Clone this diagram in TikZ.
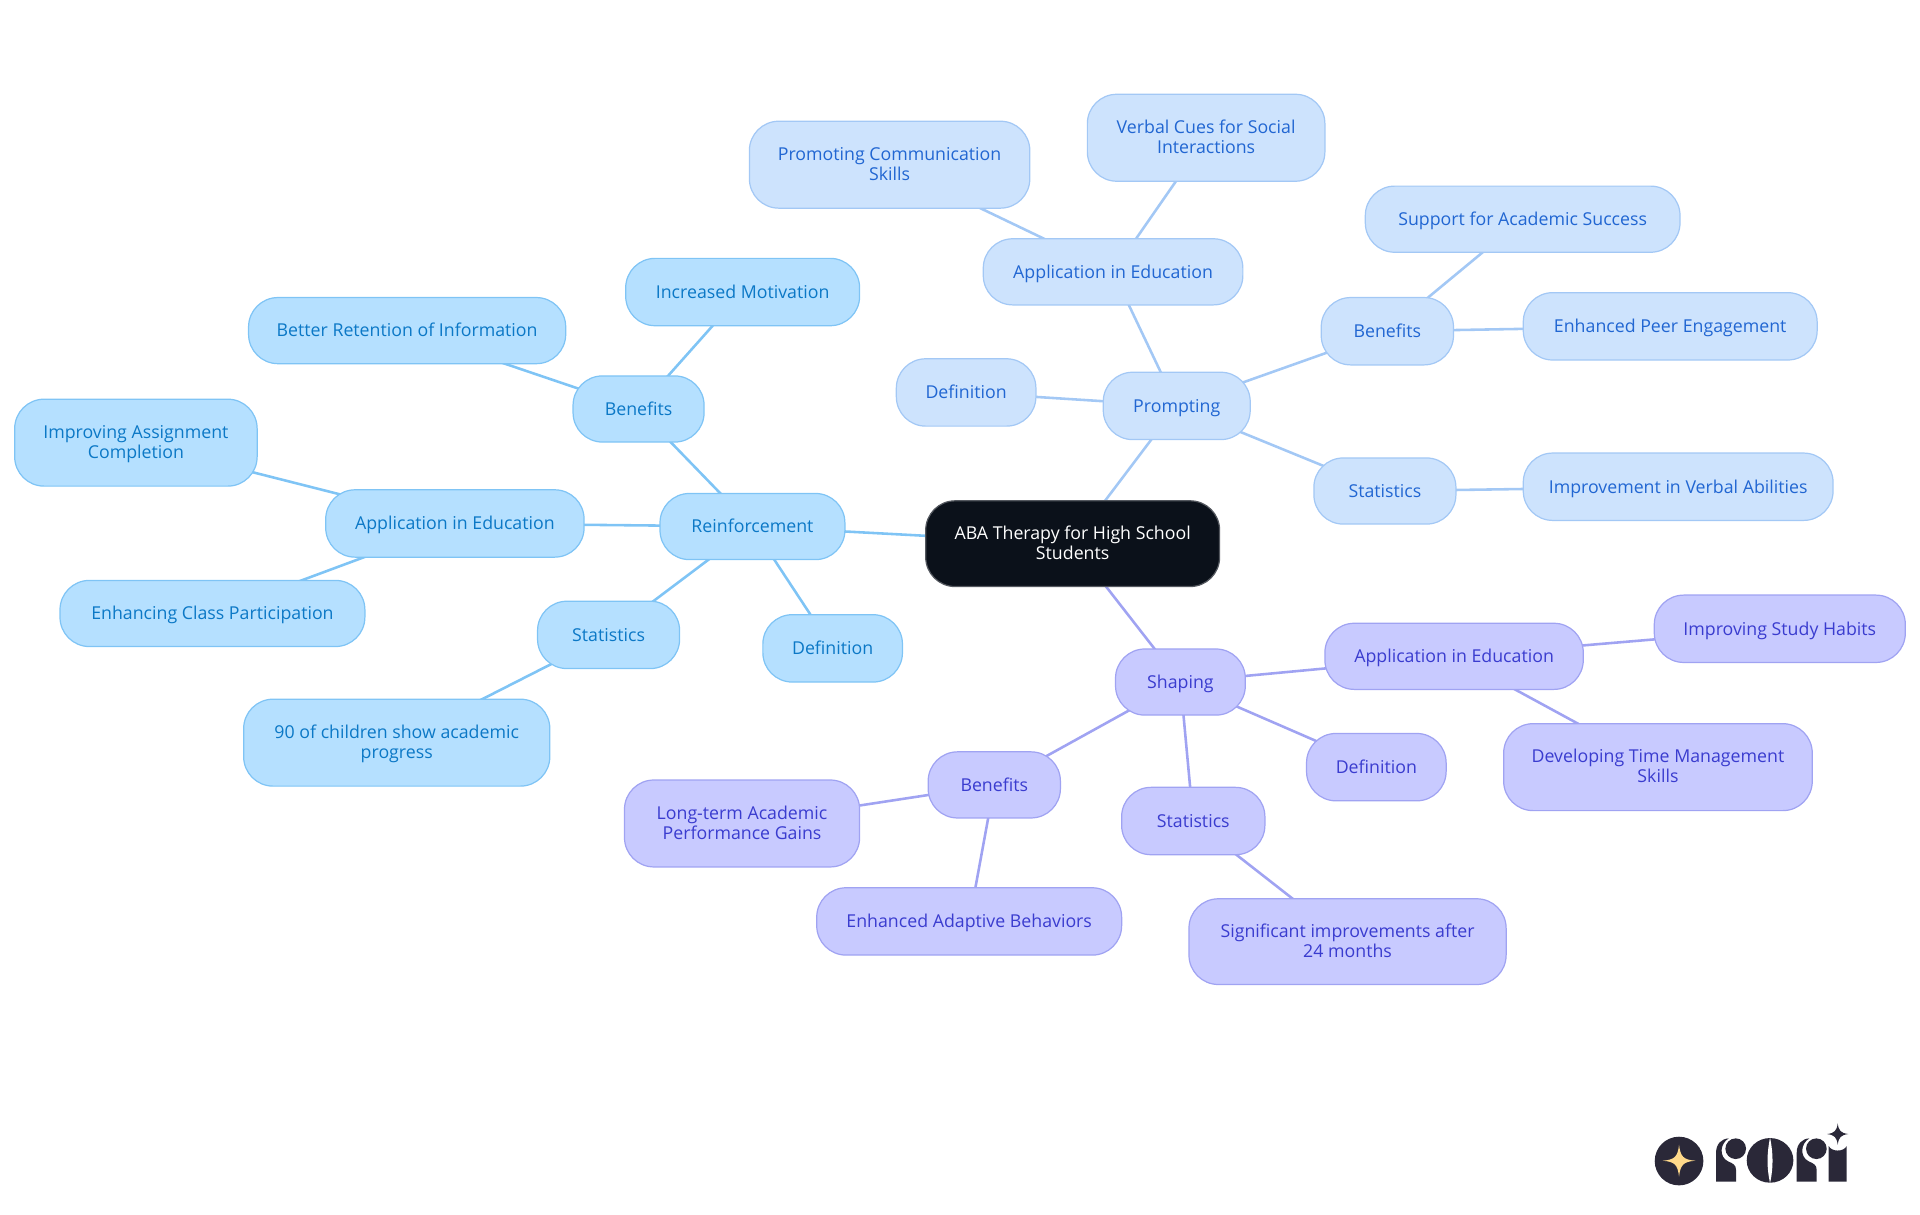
\documentclass[tikz,border=0pt]{standalone}
\usepackage{fontspec}
\setmainfont{Open Sans}
\usetikzlibrary{backgrounds}
\definecolor{rootfill}{HTML}{0B111A}
\definecolor{reinffill}{HTML}{B5E0FF}
\definecolor{reinfline}{HTML}{7FC4F5}
\definecolor{reinftext}{HTML}{0B78C6}
\definecolor{promptfill}{HTML}{CDE3FD}
\definecolor{promptline}{HTML}{A3C8F5}
\definecolor{prompttext}{HTML}{2166D2}
\definecolor{shapefill}{HTML}{C8CAFF}
\definecolor{shapeline}{HTML}{A0A3F2}
\definecolor{shapetext}{HTML}{3A3CCF}
\definecolor{logodark}{HTML}{2A2838}
\definecolor{logostar}{HTML}{FFD98A}
\tikzset{
  topic/.style={rectangle, rounded corners=24pt, inner sep=0pt, line width=1pt, align=center,
    font=\fontsize{14.5}{16.3}\selectfont,
    execute at begin node={\rule{0pt}{14.4pt}}, execute at end node={\rule[-4pt]{0pt}{4pt}}},
  roottopic/.style={topic, fill=rootfill, draw=rootfill!70!white, text=white},
  reinf/.style={topic, fill=reinffill, draw=reinfline, text=reinftext},
  prompt/.style={topic, fill=promptfill, draw=promptline, text=prompttext},
  shapetopic/.style={topic, fill=shapefill, draw=shapeline, text=shapetext},
  box/.style 2 args={minimum width=#1pt, minimum height=#2pt},
  twolines/.style={text height=26.4pt, text depth=1pt},
  link/.style={line width=2.1pt}
}
\begin{document}
\begin{tikzpicture}[x=1pt, y=-1pt]
  \useasboundingbox (0,0) rectangle (1568,992.2);

  \node [roottopic, twolines, box={240}{70}] (root) at (876,444) {ABA Therapy for High School\\Students};

  % reinforcement branch
  \node [reinf, box={151}{54}] (reinforcement) at (614.5,430) {Reinforcement};
  \node [reinf, box={211}{55}] (rapp) at (371.5,427.5) {Application in Education};
  \node [reinf, box={107}{54}] (rben) at (521.5,334) {Benefits};
  \node [reinf, box={116}{55}] (rstat) at (497,518.5) {Statistics};
  \node [reinf, box={114}{55}] (rdef) at (680,529.5) {Definition};
  \node [reinf, box={191}{55}] (motivation) at (606.5,238.5) {Increased Motivation};
  \node [reinf, box={259}{54}] (retention) at (332.5,270) {Better Retention of Information};
  \node [reinf, twolines, box={198}{71}] (assignment) at (111,361.5) {Improving Assignment\\Completion};
  \node [reinf, box={249}{54}] (participation) at (173.5,501) {Enhancing Class Participation};
  \node [reinf, twolines, box={250}{71}] (progress) at (324,606.5) {90 of children show academic\\progress};

  % prompting branch
  \node [prompt, box={120}{55}] (prompting) at (961,331.5) {Prompting};
  \node [prompt, box={212}{54}] (papp) at (909,222) {Application in Education};
  \node [prompt, box={114}{55}] (pdef) at (789,320.5) {Definition};
  \node [prompt, box={108}{55}] (pben) at (1133,270.5) {Benefits};
  \node [prompt, box={116}{54}] (pstat) at (1131,401) {Statistics};
  \node [prompt, twolines, box={229}{71}] (communication) at (726.5,134.5) {Promoting Communication\\Skills};
  \node [prompt, twolines, box={194}{71}] (verbalcues) at (985,112.5) {Verbal Cues for Social\\Interactions};
  \node [prompt, box={257}{54}] (academic) at (1243.5,179) {Support for Academic Success};
  \node [prompt, box={240}{55}] (peer) at (1364,266.5) {Enhanced Peer Engagement};
  \node [prompt, box={253}{55}] (abilities) at (1370.5,397.5) {Improvement in Verbal Abilities};

  % shaping branch
  \node [shapetopic, box={106}{54}] (shaping) at (964,557) {Shaping};
  \node [shapetopic, box={211}{54}] (sapp) at (1187.5,536) {Application in Education};
  \node [shapetopic, box={114}{55}] (sdef) at (1124,626.5) {Definition};
  \node [shapetopic, box={117}{55}] (sstat) at (974.5,670.5) {Statistics};
  \node [shapetopic, box={108}{54}] (sben) at (812,641) {Benefits};
  \node [shapetopic, box={205}{55}] (habits) at (1453.5,513.5) {Improving Study Habits};
  \node [shapetopic, twolines, box={252}{71}] (timeskills) at (1354,626.5) {Developing Time Management\\Skills};
  \node [shapetopic, twolines, box={192}{71}] (longterm) at (606,672.5) {Long-term Academic\\Performance Gains};
  \node [shapetopic, box={249}{55}] (adaptive) at (791.5,752.5) {Enhanced Adaptive Behaviors};
  \node [shapetopic, twolines, box={259}{70}] (months) at (1100.5,769) {Significant improvements after\\24 months};

  % links go under the nodes
  \begin{scope}[on background layer]
    \foreach \a/\b in {root/reinforcement, reinforcement/rapp, reinforcement/rben, reinforcement/rstat,
        reinforcement/rdef, rben/motivation, rben/retention, rapp/assignment, rapp/participation, rstat/progress}
      \draw [link, reinfline] (\a.center) -- (\b.center);
    \foreach \a/\b in {root/prompting, prompting/papp, prompting/pdef, prompting/pben, prompting/pstat,
        papp/communication, papp/verbalcues, pben/academic, pben/peer, pstat/abilities}
      \draw [link, promptline] (\a.center) -- (\b.center);
    \foreach \a/\b in {root/shaping, shaping/sapp, shaping/sdef, shaping/sstat, shaping/sben,
        sapp/habits, sapp/timeskills, sben/longterm, sben/adaptive, sstat/months}
      \draw [link, shapeline] (\a.center) -- (\b.center);
  \end{scope}

  % logo
  \begin{scope}[shift={(1306.7,890.2)}, x=0.2722pt, y=-0.2722pt]
    \fill [logodark] (237,213) circle [radius=73];
    \fill [logostar] (237,164) .. controls (241,200) and (250,209) .. (286,212)
      .. controls (250,215) and (241,224) .. (237,260)
      .. controls (233,224) and (224,215) .. (188,212)
      .. controls (224,209) and (233,200) .. (237,164) -- cycle;
    \foreach \dx in {0,242} {
      \fill [logodark, shift={(\dx,0)}] (348,275) -- (348,188) .. controls (348,162) and (364,146) .. (386,145)
        .. controls (360,160) and (356,200) .. (384,214) .. controls (398,220) and (408,224) .. (408,240)
        -- (408,275) -- cycle;
      \fill [logodark, shift={(\dx,0)}] (407,176) circle [radius=31];
    }
    \fill [logodark] (510,211) ellipse [x radius=70, y radius=67];
    \fill [white] (510,143) .. controls (500,190) and (500,235) .. (510,279)
      .. controls (520,235) and (520,190) .. (510,143) -- cycle;
    \fill [logodark] (686,275) -- (686,168) .. controls (695,186) and (731,186) .. (740,168) -- (740,275) -- cycle;
    \fill [logodark] (713,100) .. controls (716,122) and (722,129) .. (745,132)
      .. controls (722,135) and (716,142) .. (713,164)
      .. controls (710,142) and (704,135) .. (681,132)
      .. controls (704,129) and (710,122) .. (713,100) -- cycle;
  \end{scope}
\end{tikzpicture}
\end{document}
